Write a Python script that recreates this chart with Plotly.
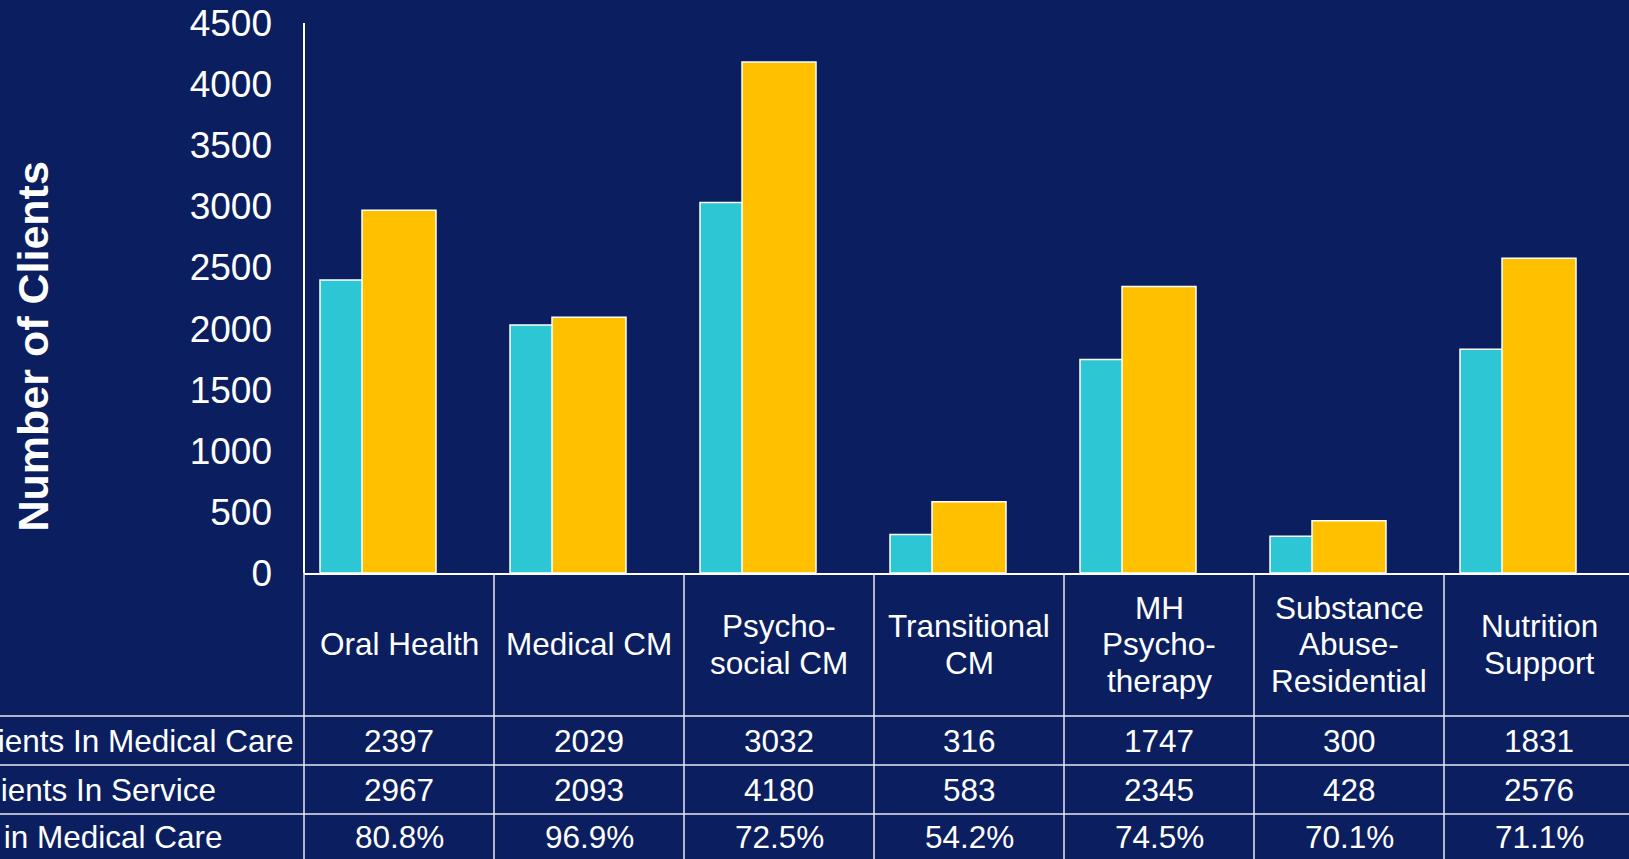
import plotly.graph_objects as go

categories = ["Oral Health", "Medical CM", "Psycho-<br>social CM", "Transitional<br>CM",
              "MH<br>Psycho-<br>therapy", "Substance<br>Abuse-<br>Residential", "Nutrition<br>Support"]
in_medical_care = [2397, 2029, 3032, 316, 1747, 300, 1831]
in_service = [2967, 2093, 4180, 583, 2345, 428, 2576]
pct_labels = ["80.8%", "96.9%", "72.5%", "54.2%", "74.5%", "70.1%", "71.1%"]
row_labels = ["Clients In Medical Care", "Clients In Service", "% in Medical Care"]
y_ticks = [0, 500, 1000, 1500, 2000, 2500, 3000, 3500, 4000, 4500]

BG = "#0B1F60"
TEAL = "#2CC6D5"
GOLD = "#FFC000"
FONT = "Liberation Sans, Arial, sans-serif"

W, H = 1629, 859
ML, MR, MT, MB = 304, 0, 23, 286
plot_w = W - ML - MR
plot_h = H - MT - MB
cat_px = 190.0
xr = [-0.5, -0.5 + plot_w / cat_px]
span = xr[1] - xr[0]

def px_to_py(py):
    return (H - MB - py) / plot_h

def px_to_px(px):
    return (px - ML) / plot_w

x_idx = list(range(len(categories)))
bw = 74 / cat_px

fig = go.Figure()
fig.add_trace(go.Bar(x=x_idx, y=in_medical_care, width=bw, offset=-0.5 + 16 / cat_px,
                     marker=dict(color=TEAL, line=dict(color="white", width=1.5)),
                     name="In Medical Care"))
fig.add_trace(go.Bar(x=x_idx, y=in_service, width=bw, offset=-bw / 2,
                     marker=dict(color=GOLD, line=dict(color="white", width=1.5)),
                     name="In Service"))

shapes = []
LINE = dict(color="#E8E8F0", width=1.5)
# y axis line
shapes.append(dict(type="line", xref="paper", yref="paper", x0=0, x1=0, y0=0, y1=1,
                   line=dict(color="white", width=2)))
# vertical table lines
for k in range(len(categories) + 1):
    xp = k / span
    shapes.append(dict(type="line", xref="paper", yref="paper", x0=xp, x1=xp,
                       y0=0, y1=px_to_py(H + 5), line=LINE))
# horizontal row lines
for py in [716, 765, 814]:
    shapes.append(dict(type="line", xref="paper", yref="paper", x0=px_to_px(-5), x1=1.02,
                       y0=px_to_py(py), y1=px_to_py(py), line=LINE))

ann = []
tf = dict(family=FONT, size=31.5, color="white")
header_center = (573 + 716) / 2
line_sp = 36.5
for i, c in enumerate(categories):
    lines = c.split("<br>")
    n = len(lines)
    for j, ln in enumerate(lines):
        cy = header_center + (j - (n - 1) / 2) * line_sp
        ann.append(dict(x=i, xref="x", y=px_to_py(cy), yref="paper", text=ln, showarrow=False,
                        font=tf, xanchor="center", yanchor="middle"))
row_centers = [740.5, 789.5, 837]
rows = [[str(v) for v in in_medical_care], [str(v) for v in in_service], pct_labels]
for r, vals in enumerate(rows):
    for i, v in enumerate(vals):
        ann.append(dict(x=i, xref="x", y=px_to_py(row_centers[r]), yref="paper", text=v,
                        showarrow=False, font=tf, xanchor="center", yanchor="middle"))
# row labels (partially cut off at the left edge, as in the reference)
ann.append(dict(x=px_to_px(296), xref="paper", y=px_to_py(row_centers[0]), yref="paper",
                text=row_labels[0], showarrow=False, font=tf, xanchor="right", yanchor="middle"))
ann.append(dict(x=px_to_px(-31.5), xref="paper", y=px_to_py(row_centers[1]), yref="paper",
                text=row_labels[1], showarrow=False, font=tf, xanchor="left", yanchor="middle"))
ann.append(dict(x=px_to_px(-35), xref="paper", y=px_to_py(row_centers[2]), yref="paper",
                text=row_labels[2], showarrow=False, font=tf, xanchor="left", yanchor="middle"))
# y axis title
ann.append(dict(x=px_to_px(32), xref="paper", y=px_to_py(346.5), yref="paper",
                text="<b>Number of Clients</b>", textangle=-90, showarrow=False,
                font=dict(family=FONT, size=43, color="white"),
                xanchor="center", yanchor="middle"))

fig.update_layout(
    width=W, height=H,
    margin=dict(l=ML, r=MR, t=MT, b=MB, pad=0),
    paper_bgcolor=BG, plot_bgcolor=BG,
    barmode="overlay", showlegend=False,
    shapes=shapes, annotations=ann,
    font=dict(family=FONT, color="white"),
    xaxis=dict(range=xr, showticklabels=False, showgrid=False, zeroline=False,
               showline=True, linecolor="white", linewidth=2, ticks=""),
    yaxis=dict(range=[0, 4500], tickvals=y_ticks, showgrid=False, zeroline=False,
               showline=False, ticks="",
               tickfont=dict(family=FONT, size=37, color="white"),
               ticklabelstandoff=31),
)

fig.write_html("out.html", config={"displayModeBar": False},
               post_script="document.body.style.margin='0';document.body.style.overflow='hidden';"
                           "document.body.style.background='" + BG + "';")
